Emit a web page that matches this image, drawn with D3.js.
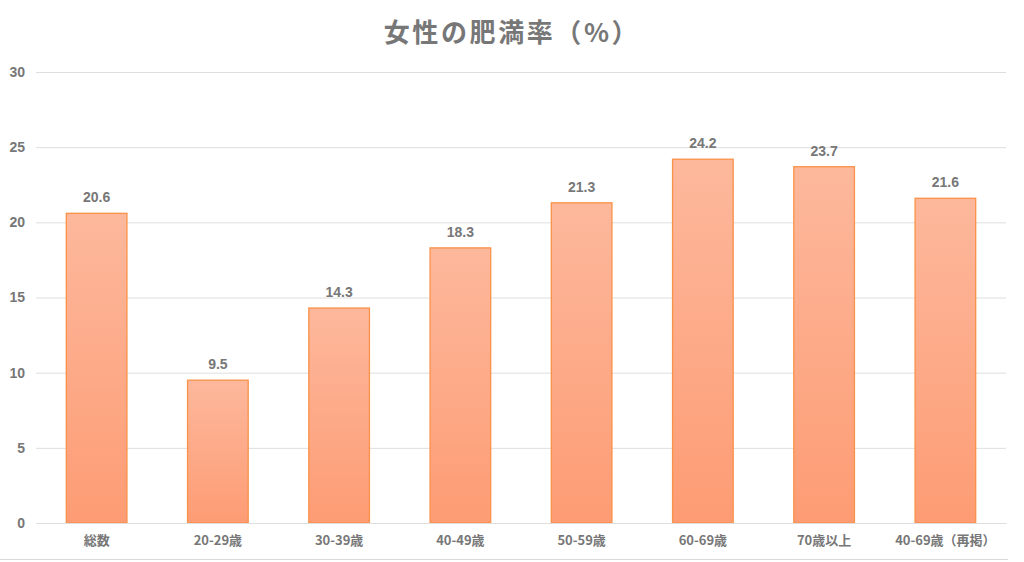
<!DOCTYPE html>
<html lang="ja">
<head>
<meta charset="utf-8">
<script src="https://cdn.jsdelivr.net/npm/d3@7"></script>
<style>
  html, body { margin: 0; padding: 0; background: #fff; }
  svg { display: block; font-family: "Noto Sans CJK JP", "Liberation Sans", sans-serif; }
</style>
</head>
<body>
<svg id="chart" width="1024" height="562"></svg>
<script>
// 女性の肥満率 data
const categories = ['総数', '20-29歳', '30-39歳', '40-49歳', '50-59歳', '60-69歳', '70歳以上', '40-69歳（再掲）'];
const values = [20.6, 9.5, 14.3, 18.3, 21.3, 24.2, 23.7, 21.6];
const yTicks = [0, 5, 10, 15, 20, 25, 30];

(function () {
  'use strict';

  const W = 1024, H = 562;
  const margin = { top: 72, right: 18, bottom: 39, left: 36 };
  const innerW = W - margin.left - margin.right;
  const innerH = H - margin.top - margin.bottom;

  const svg = d3.select('#chart');

  // gradient fill for bars
  const grad = svg.append('defs').append('linearGradient')
    .attr('id', 'barGrad')
    .attr('x1', 0).attr('y1', 0).attr('x2', 0).attr('y2', 1);
  grad.append('stop').attr('offset', '0%').attr('stop-color', '#fdb89c');
  grad.append('stop').attr('offset', '100%').attr('stop-color', '#fd9c74');

  // title
  svg.append('text')
    .attr('x', 512)
    .attr('y', 42)
    .attr('text-anchor', 'middle')
    .attr('font-size', 26)
    .attr('font-weight', 'bold')
    .attr('letter-spacing', 2.6)
    .attr('fill', '#777')
    .text('女性の肥満率（%）');

  const g = svg.append('g')
    .attr('transform', `translate(${margin.left},${margin.top})`);

  const x = d3.scaleBand().domain(categories).range([0, innerW]).paddingInner(0.5).paddingOuter(0.25);
  const y = d3.scaleLinear().domain([0, 30]).range([innerH, 0]);

  // gridlines + y labels
  g.append('g')
    .call(d3.axisLeft(y).tickValues(yTicks).tickSize(-innerW).tickPadding(11))
    .call(ax => ax.select('.domain').remove())
    .call(ax => ax.selectAll('.tick line').attr('stroke', '#dedede').attr('stroke-width', 1))
    .call(ax => ax.selectAll('.tick text')
      .attr('fill', '#777').attr('font-size', 14).attr('font-weight', 'bold')
      .attr('font-family', '"Liberation Sans", sans-serif'));

  // bars
  g.selectAll('.bar')
    .data(values)
    .enter()
    .append('rect')
    .attr('class', 'bar')
    .attr('x', (d, i) => x(categories[i]))
    .attr('y', d => y(d))
    .attr('width', x.bandwidth())
    .attr('height', d => innerH - y(d))
    .attr('fill', 'url(#barGrad)')
    .attr('stroke', '#fa9148')
    .attr('stroke-width', 1.3);

  // value labels
  g.selectAll('.val')
    .data(values)
    .enter()
    .append('text')
    .attr('class', 'val')
    .attr('x', (d, i) => x(categories[i]) + x.bandwidth() / 2)
    .attr('y', d => y(d) - 11)
    .attr('text-anchor', 'middle')
    .attr('font-size', 14)
    .attr('font-weight', 'bold')
    .attr('font-family', '"Liberation Sans", sans-serif')
    .attr('fill', '#777')
    .text(d => d.toFixed(1));

  // x axis labels
  g.append('g')
    .attr('transform', `translate(0,${innerH})`)
    .call(d3.axisBottom(x).tickSize(0).tickPadding(13))
    .call(ax => ax.select('.domain').attr('stroke', '#dedede'))
    .call(ax => ax.selectAll('.tick text')
      .attr('fill', '#777').attr('font-size', 13).attr('font-weight', 'bold')
      .attr('font-family', '"Noto Sans CJK JP", sans-serif'));

  // bottom frame line
  svg.append('line')
    .attr('x1', 0).attr('x2', 1008)
    .attr('y1', 559.5).attr('y2', 559.5)
    .attr('stroke', '#d9d9d9');
})();
</script>
</body>
</html>
